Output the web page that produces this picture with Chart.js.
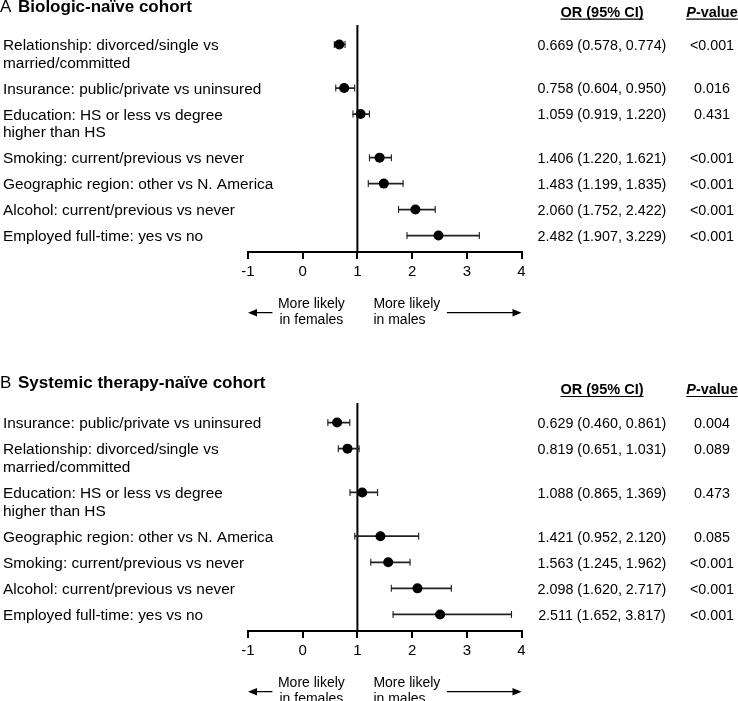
<!DOCTYPE html>
<html><head><meta charset="utf-8">
<script src="https://cdn.jsdelivr.net/npm/chart.js@4.4.1/dist/chart.umd.min.js"></script>
<style>
html,body{margin:0;padding:0;background:#fff;overflow:hidden;width:738px;height:701px;}
canvas{position:absolute;left:0;}
#cA{top:0}
#cB{top:360px}
</style></head><body>
<canvas id="cA" width="738" height="350"></canvas>
<canvas id="cB" width="738" height="341"></canvas>
<script>
// ---------- data ----------
const xTicks = [-1, 0, 1, 2, 3, 4];
const arrowLeftText = ["More likely", "in females"];
const arrowRightText = ["More likely", "in males"];
const headerOR = "OR (95% CI)";
const headerP1 = "P";
const headerP2 = "-value";

const titleA = "Biologic-naïve cohort";
const labelsA = [
  ["Relationship: divorced/single vs", "married/committed"],
  ["Insurance: public/private vs uninsured"],
  ["Education: HS or less vs degree", "higher than HS"],
  ["Smoking: current/previous vs never"],
  ["Geographic region: other vs N. America"],
  ["Alcohol: current/previous vs never"],
  ["Employed full-time: yes vs no"]
];
const orA   = [0.669, 0.758, 1.059, 1.406, 1.483, 2.060, 2.482];
const lowA  = [0.578, 0.604, 0.919, 1.220, 1.199, 1.752, 1.907];
const highA = [0.774, 0.950, 1.220, 1.621, 1.835, 2.422, 3.229];
const pA    = ["<0.001", "0.016", "0.431", "<0.001", "<0.001", "<0.001", "<0.001"];

const titleB = "Systemic therapy-naïve cohort";
const labelsB = [
  ["Insurance: public/private vs uninsured"],
  ["Relationship: divorced/single vs", "married/committed"],
  ["Education: HS or less vs degree", "higher than HS"],
  ["Geographic region: other vs N. America"],
  ["Smoking: current/previous vs never"],
  ["Alcohol: current/previous vs never"],
  ["Employed full-time: yes vs no"]
];
const orB   = [0.629, 0.819, 1.088, 1.421, 1.563, 2.098, 2.511];
const lowB  = [0.460, 0.651, 0.865, 0.952, 1.245, 1.620, 1.652];
const highB = [0.861, 1.031, 1.369, 2.120, 1.962, 2.717, 3.817];
const pB    = ["0.004", "0.089", "0.473", "0.085", "<0.001", "<0.001", "<0.001"];

// ---------- layout helpers ----------
const FONT = '"Liberation Sans", Arial, Helvetica, sans-serif';
const EXTRA_LINE = 0.68;   // row-height added per extra label line (in row units)
const LINE_PX = 17.6;

function rowPositions(labels) {
  const pos = [];
  let y = 0;
  labels.forEach((l, i) => {
    if (i > 0) y += 1 + EXTRA_LINE * (labels[i - 1].length - 1);
    pos.push(y);
  });
  return pos;
}

const forestPlugin = {
  id: 'forest',
  beforeDatasetsDraw(chart, args, o) {
    const {ctx, chartArea: ca, scales: {x}} = chart;
    const x1 = x.getPixelForValue(1);
    ctx.save();
    ctx.strokeStyle = '#000';
    ctx.lineWidth = 2;
    ctx.beginPath();
    ctx.moveTo(x1, ca.top);
    ctx.lineTo(x1, ca.bottom);
    ctx.stroke();
    ctx.restore();
  },
  afterDraw(chart, args, o) {
    const {ctx, chartArea: ca, scales: {x, y}} = chart;
    ctx.save();
    ctx.fillStyle = '#000';
    ctx.strokeStyle = '#000';
    ctx.textBaseline = 'alphabetic';
    ctx.textAlign = 'left';
    // title
    ctx.font = `17px ${FONT}`;
    ctx.fillText(o.letter, 0, o.titleY);
    ctx.font = `bold 17px ${FONT}`;
    ctx.fillText(o.title, 18, o.titleY);
    // headers
    const hy = o.headerY;
    ctx.font = `bold 14.5px ${FONT}`;
    const wOR = ctx.measureText(headerOR).width;
    const orX = o.orX;
    ctx.fillText(headerOR, orX - wOR / 2, hy);
    ctx.lineWidth = 1.2;
    ctx.beginPath(); ctx.moveTo(orX - wOR / 2, hy + 2.5); ctx.lineTo(orX + wOR / 2, hy + 2.5); ctx.stroke();
    ctx.font = `italic bold 14.5px ${FONT}`;
    const wP1 = ctx.measureText(headerP1).width;
    ctx.font = `bold 14.5px ${FONT}`;
    const wP2 = ctx.measureText(headerP2).width;
    const pStart = o.pX - (wP1 + wP2) / 2;
    ctx.font = `italic bold 14.5px ${FONT}`;
    ctx.fillText(headerP1, pStart, hy);
    ctx.font = `bold 14.5px ${FONT}`;
    ctx.fillText(headerP2, pStart + wP1, hy);
    ctx.beginPath(); ctx.moveTo(pStart, hy + 2.5); ctx.lineTo(pStart + wP1 + wP2, hy + 2.5); ctx.stroke();
    // rows
    o.labels.forEach((lines, i) => {
      const py = y.getPixelForValue(o.pos[i]);
      ctx.textAlign = 'left';
      ctx.font = `15.4px ${FONT}`;
      lines.forEach((t, k) => ctx.fillText(t, 3, py + 5.5 + k * LINE_PX));
      ctx.font = `14.3px ${FONT}`;
      ctx.textAlign = 'center';
      const txt = `${o.or[i].toFixed(3)} (${o.low[i].toFixed(3)}, ${o.high[i].toFixed(3)})`;
      ctx.fillText(txt, orX, py + 5.3);
      ctx.fillText(o.p[i], o.pX, py + 5.3);
    });
    // direction arrows
    const x1 = x.getPixelForValue(1);
    const ay = ca.bottom + 60.7;
    ctx.font = `14px ${FONT}`;
    ctx.textAlign = 'center';
    ctx.fillText(arrowLeftText[0], x1 - 46, ca.bottom + 56);
    ctx.fillText(arrowLeftText[1], x1 - 46, ca.bottom + 71.5);
    ctx.textAlign = 'left';
    ctx.fillText(arrowRightText[0], x1 + 16, ca.bottom + 56);
    ctx.fillText(arrowRightText[1], x1 + 16, ca.bottom + 71.5);
    ctx.lineWidth = 1.3;
    ctx.beginPath();
    ctx.moveTo(ca.left + 6, ay); ctx.lineTo(x1 - 85, ay);
    ctx.moveTo(x1 + 89.5, ay); ctx.lineTo(ca.right - 6, ay);
    ctx.stroke();
    ctx.beginPath();
    ctx.moveTo(ca.left, ay); ctx.lineTo(ca.left + 9, ay - 3.8); ctx.lineTo(ca.left + 9, ay + 3.8); ctx.closePath();
    ctx.moveTo(ca.right, ay); ctx.lineTo(ca.right - 9, ay - 3.8); ctx.lineTo(ca.right - 9, ay + 3.8); ctx.closePath();
    ctx.fill();
    ctx.restore();
  }
};

function makeChart(id, letter, title, labels, or, low, high, p, dy, titleY, headerY, padBottom) {
  const pos = rowPositions(labels);
  const last = pos[pos.length - 1];
  return new Chart(document.getElementById(id), {
    type: 'scatter',
    data: {
      datasets: [
        {
          type: 'scatter',
          data: or.map((v, i) => ({x: v, y: pos[i]})),
          pointRadius: 5, pointBackgroundColor: '#000', pointBorderWidth: 0,
          showLine: false, order: 0
        },
        {
          type: 'scatter',
          data: low.map((v, i) => ({x: v, y: pos[i]})).concat(high.map((v, i) => ({x: v, y: pos[i]}))),
          pointStyle: 'line', pointRotation: 90, pointRadius: 3.5,
          pointBorderColor: '#222', pointBorderWidth: 1.1,
          showLine: false, order: 1
        },
        {
          type: 'bar', indexAxis: 'y',
          data: low.map((v, i) => ({x: [v, high[i]], y: pos[i]})),
          barThickness: 1.1, backgroundColor: '#222', borderWidth: 0, order: 2
        }
      ]
    },
    options: {
      responsive: false, animation: false, events: [],
      layout: {padding: {left: 248, right: 216.5, top: 25 + dy, bottom: padBottom}},
      plugins: {
        legend: {display: false}, tooltip: {enabled: false},
        forest: {letter, title, labels, or, low, high, p, pos, titleY: titleY + dy, headerY: headerY + dy, orX: 602, pX: 712}
      },
      scales: {
        x: {
          type: 'linear', min: xTicks[0], max: xTicks[xTicks.length - 1], offset: false,
          afterBuildTicks: (axis) => { axis.ticks = xTicks.map(v => ({value: v})); },
          afterFit: (scale) => { scale.height = 28; },
          grid: {display: true, drawOnChartArea: false, drawTicks: true, tickLength: 7, color: '#000', tickWidth: 2, lineWidth: 2},
          border: {display: true, color: '#000', width: 2},
          ticks: {color: '#000', font: {size: 15, family: FONT}, padding: 4, maxRotation: 0, autoSkip: false}
        },
        y: {
          type: 'linear', display: false, reverse: true,
          min: -0.75, max: last + 0.635, offset: false
        }
      }
    },
    plugins: [forestPlugin]
  });
}

// canvas A: 350 tall, plot bottom at 252 -> pad = 350-252-28 = 70
makeChart('cA', 'A', titleA, labelsA, orA, lowA, highA, pA, 0, 12, 16.7, 70);
// canvas B: starts at 360, 341 tall, plot top at 403 (dy=18), bottom at 631 -> pad = 341-271-28 = 42
makeChart('cB', 'B', titleB, labelsB, orB, lowB, highB, pB, 18, 9.5, 16, 42);
</script>
</body></html>
